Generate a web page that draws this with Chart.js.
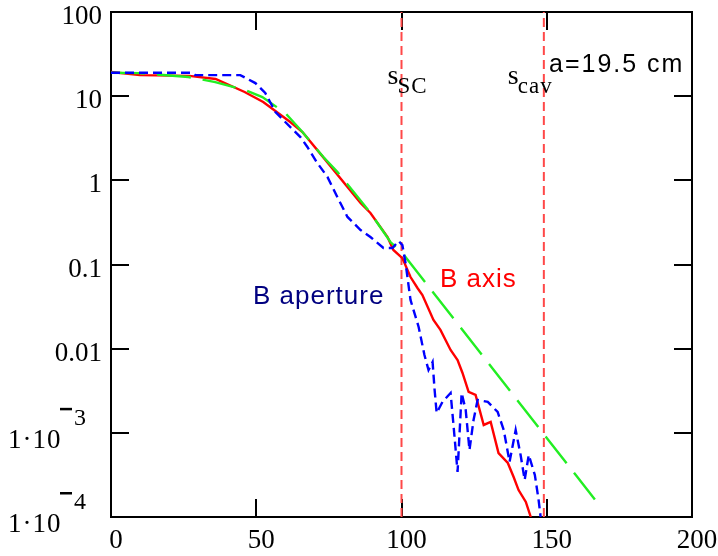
<!DOCTYPE html>
<html><head><meta charset="utf-8">
<script src="https://cdn.jsdelivr.net/npm/chart.js@4/dist/chart.umd.min.js"></script>
<style>html,body{margin:0;padding:0;background:#fff;overflow:hidden}</style>
</head><body>
<canvas id="c" width="718" height="556"></canvas>
<script>
// ---- data ----
const sAxis = [0,10,27,36,46,52.4,61.7,65.9,73.8,81.4,85.9,89.3,95.2,97.2,100.3,103.1,105.5,107.2,111,113.4,116.9,119.3,121,123.1,125.5,128.3,130.7,133.4,136.6,138.6,140.3,142.8,144.5];
const bAxis = [19.4,17.8,17.4,16.0,11.2,8.53,4.93,3.75,1.75,0.834,0.538,0.409,0.212,0.149,0.119,0.071,0.0526,0.0434,0.0219,0.0167,0.00964,0.00734,0.00514,0.00306,0.00282,0.00124,0.00135,5.75e-4,4.38e-4,2.99e-4,2.09e-4,1.51e-4,1e-4];

const sAperture = [0,13.4,27.9,29,44.5,49.7,53.1,56.6,59.3,65.2,67.6,71,74.5,77.9,81.4,85.9,89.3,93.8,96.9,99,100.3,101.4,103.1,105.9,107.9,109.3,110.7,111.4,112.1,114.1,116.9,117.9,119.3,120.7,122.1,123.4,124.8,126.2,129.7,133.1,135.2,137.2,139.3,141,142.4,143.8,145.9,147.2,147.9];
const bAperture = [19.0,19.0,19.0,17.8,17.8,14.3,10.9,6.49,5.21,3.27,2.49,1.61,1.10,0.634,0.367,0.257,0.212,0.157,0.157,0.19,0.17,0.104,0.0379,0.0181,0.0084,0.00558,0.00695,0.00323,0.00172,0.00233,0.00297,0.00124,3.43e-4,0.00297,0.00187,6.25e-4,0.00142,0.00246,0.00233,0.00177,0.00108,4.51e-4,0.00108,5.46e-4,2.75e-4,5.46e-4,3.16e-4,1.59e-4,1e-4];

const sFit = [0,9.3,26.6,35.9,46.2,52.1,60,65.9,73.1,77.9,85.2,89.3,96.2,100.3,110,120,130,140,150,160,168.6];
const bFit = [19.0,18.8,16.9,14.7,11.8,9.77,6.3,3.75,1.89,1.26,0.617,0.41,0.185,0.137,0.051,0.0185,0.00667,0.00241,8.7e-4,3.15e-4,1.31e-4];

const sMarkers = [100, 149];          // s_SC, s_cav
const markerNames = [["s","SC"],["s","cav"]];

const xTickValues = [0,50,100,150,200];
const xTickLabels = ["0","50","100","150","200"];
const yTickValues = [100,10,1,0.1,0.01,1e-3,1e-4];
const yTickLabels = ["100","10","1","0.1","0.01","1·10|3","1·10|4"];

const yMin = 1e-4, yMax = 100, xMin = 0, xMax = 200;

// ---- build datasets ----
const pts = (xs, ys) => xs.map((x,i)=>({x, y: ys[i]}));
const markerSets = sMarkers.map(s => ({
  data: [{x:s,y:yMin},{x:s,y:yMax}],
  borderColor:'#ff4848', borderWidth:2, borderDash:[9,5], order:5
}));
const markerTextOffset = [-14, -36];

const frame = {
  id:'frame',
  beforeDatasetsDraw(chart){
    const {ctx, chartArea:a, scales:{x,y}} = chart;
    ctx.save();
    ctx.strokeStyle='#000'; ctx.lineWidth=2;
    ctx.strokeRect(a.left, a.top, a.right-a.left, a.bottom-a.top);
    ctx.beginPath();
    yTickValues.forEach(v=>{
      const py = Math.round(y.getPixelForValue(v));
      ctx.moveTo(a.left, py); ctx.lineTo(a.left+18, py);
      ctx.moveTo(a.right, py); ctx.lineTo(a.right-18, py);
    });
    xTickValues.forEach(v=>{
      const px = Math.round(x.getPixelForValue(v));
      ctx.moveTo(px, a.bottom); ctx.lineTo(px, a.bottom-18);
      ctx.moveTo(px, a.top); ctx.lineTo(px, a.top+18);
    });
    ctx.stroke();
    ctx.restore();
  },
  afterDraw(chart){
    const {ctx, chartArea:a, scales:{x,y}} = chart;
    ctx.save();
    ctx.fillStyle='#000';
    ctx.font='27px "Liberation Serif"';
    ctx.textBaseline='middle';
    // x tick labels
    ctx.textAlign='center';
    xTickValues.forEach((v,i)=>{
      ctx.fillText(xTickLabels[i], x.getPixelForValue(v)+5, a.bottom+24);
    });
    // y tick labels
    yTickValues.forEach((v,i)=>{
      const py = y.getPixelForValue(v);
      const lab = yTickLabels[i];
      if(lab.includes('|')){
        const [base, ex] = lab.split('|');
        ctx.textAlign='left';
        ctx.font='27px "Liberation Serif"';
        ctx.letterSpacing='1px';
        ctx.fillText(base, 8, py+8);
        ctx.letterSpacing='0px';
        ctx.font='24px "Liberation Serif"';
        ctx.fillText(ex, 74, py-14);
        ctx.fillRect(60, py-25, 12, 2.5);
      } else {
        ctx.textAlign='right';
        ctx.font='27px "Liberation Serif"';
        ctx.fillText(lab, 102, py+5);
      }
    });
    // marker names
    ctx.textBaseline='alphabetic';
    ctx.textAlign='left';
    sMarkers.forEach((s,i)=>{
      const px = x.getPixelForValue(s) + markerTextOffset[i];
      ctx.font='28px "Liberation Serif"';
      ctx.fillText(markerNames[i][0], px, 84);
      ctx.font='23px "Liberation Serif"';
      ctx.letterSpacing='1px';
      ctx.fillText(markerNames[i][1], px+10, 93);
      ctx.letterSpacing='0px';
    });
    // annotation texts
    ctx.font='25px "Liberation Sans"';
    ctx.letterSpacing='2px';
    ctx.fillText('a=19.5 cm', 549, 72);
    ctx.letterSpacing='1px';
    ctx.font='26px "Liberation Sans"';
    ctx.fillStyle='#000080';
    ctx.fillText('B aperture', 253, 304);
    ctx.fillStyle='#ff0000';
    ctx.fillText('B axis', 440, 287);
    ctx.restore();
  }
};

new Chart(document.getElementById('c'), {
  type:'line',
  data:{ datasets:[
    { label:'B aperture', data: pts(sAperture,bAperture), borderColor:'#0000ff', borderWidth:2.4, borderDash:[9,5], order:0 },
    { label:'fit', data: pts(sFit,bFit), borderColor:'#22ee22', borderWidth:2.4, borderDash:[34,12], order:1 },
    { label:'B axis', data: pts(sAxis,bAxis), borderColor:'#ff0000', borderWidth:2.4, order:2 },
    ...markerSets
  ]},
  options:{
    responsive:false, animation:false, devicePixelRatio:1,
    elements:{ point:{ radius:0 }, line:{ tension:0, fill:false } },
    layout:{ padding:{ left:111, right:26, top:12, bottom:39 } },
    plugins:{ legend:{display:false}, tooltip:{enabled:false} },
    scales:{
      x:{ type:'linear', min:xMin, max:xMax, grid:{display:false}, border:{display:false},
          ticks:{display:false}, afterFit(s){ s.height=0; } },
      y:{ type:'logarithmic', min:yMin, max:yMax, grid:{display:false}, border:{display:false},
          ticks:{display:false}, afterFit(s){ s.width=0; } }
    }
  },
  plugins:[frame]
});
</script>
</body></html>
